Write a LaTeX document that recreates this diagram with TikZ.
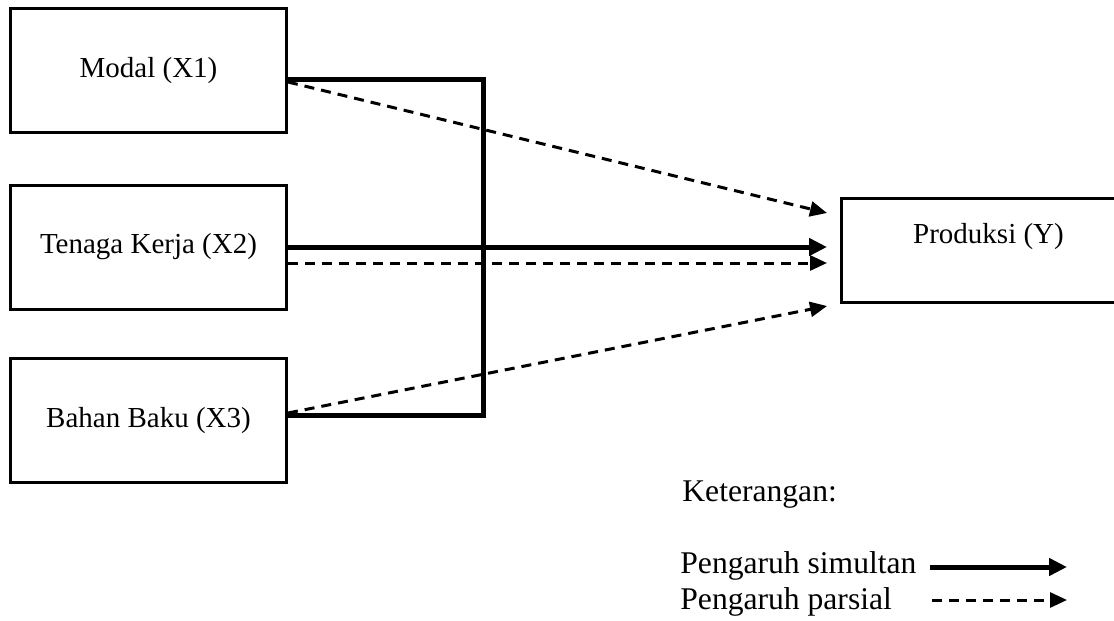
\documentclass[tikz,border=0pt]{standalone}
\usepackage{fontspec}
\setmainfont{Liberation Serif}
\usetikzlibrary{arrows.meta}
\usetikzlibrary{positioning}
\tikzset{
  varbox/.style= {
    rectangle,
    draw,
    line width = 1.5pt,
    minimum width = 138pt,
    minimum height = 62pt,
    inner sep = 0pt,
    font = \fontsize{14.5}{17}\selectfont
  },
  simultanline/.style= {
    line width = 2.5pt
  },
  simultan/.style= {
    simultanline,
    -{Triangle[length=9pt,width=8.5pt]}
  },
  parsial/.style= {
    line width = 1.5pt,
    dash pattern = on 5pt off 3.5pt,
    -{Triangle[length=8.5pt,width=7.5pt]}
  },
  legendtext/.style= {
    anchor = base west,
    inner sep = 0pt,
    font = \fontsize{15.8}{19}\selectfont
  }
}
\begin{document}
\begin{tikzpicture}[x=0.5pt,y=-0.5pt]
  \useasboundingbox (0,0) rectangle (1114,621);

  % variabel bebas
  \node[varbox] (x1) at (148.5,70.5) {Modal (X1)};
  \node[varbox] (x2) at (148.5,247) {Tenaga Kerja (X2)};
  \node[varbox] (x3) at (148.5,420.5) {Bahan Baku (X3)};

  % variabel terikat
  \node[varbox,anchor=north west,minimum height=0pt,minimum width=147pt,
    text height=22.25pt,text depth=29.75pt] (y) at (840,197) {Produksi (Y)};

  % pengaruh simultan
  \coordinate (sudut) at (483,247);
  \draw[simultanline] ([yshift=-4.25pt]x1.east) -| (sudut) |- ([yshift=2.75pt]x3.east);
  \draw[simultan,shorten >=6.5pt] (x2.east) -- (x2.east -| y.west);

  % pengaruh parsial
  \draw[parsial] ([yshift=-5.75pt]x1.east) -- ([xshift=-6.5pt,yshift=18.75pt]y.west);
  \draw[parsial,shorten >=6.5pt] ([yshift=-8pt]x2.east) -- ([yshift=-8pt]x2.east -| y.west);
  \draw[parsial] ([yshift=3.75pt]x3.east) -- ([xshift=-6.5pt,yshift=-27.75pt]y.west);

  % keterangan
  \node[legendtext] (ket) at (682,501) {Keterangan:};
  \node[legendtext] (sim) at (680,573) {Pengaruh simultan};
  \node[legendtext] (par) at (680,609) {Pengaruh parsial};
  \coordinate (simA) at (930,567);
  \coordinate (simB) at (1067,567);
  \coordinate (parA) at (932,600);
  \coordinate (parB) at (1067,600);
  \draw[simultan] (simA) -- (simB);
  \draw[parsial] (parA) -- (parB);

\end{tikzpicture}
\end{document}
